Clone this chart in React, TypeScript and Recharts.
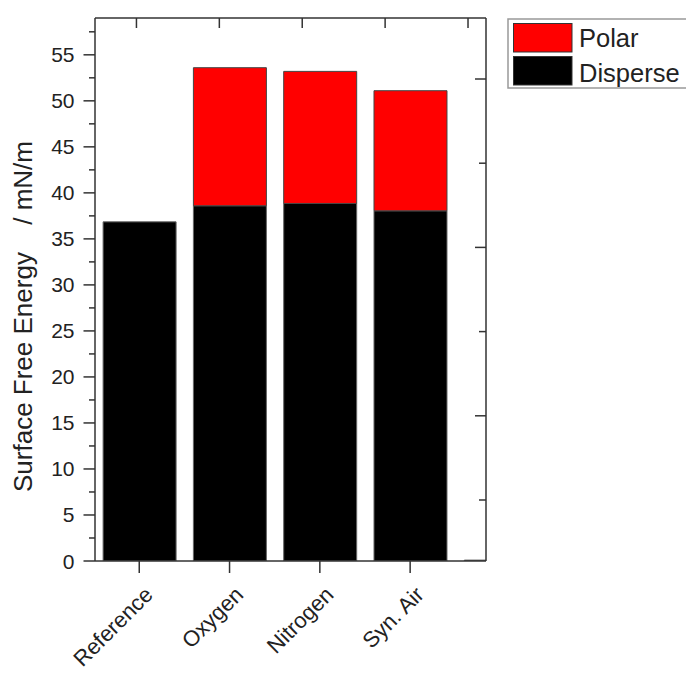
import React from 'react';
import { ComposedChart, Bar, Line, XAxis, YAxis } from 'recharts';

const categories = ['Reference', 'Oxygen', 'Nitrogen', 'Syn. Air', ''];
const disperseValues = [36.85, 38.6, 38.85, 38.05, 0.1];
const polarValues: (number | null)[] = [null, 15.0, 14.35, 13.05, null];
const yTicks = [0, 2.5, 5, 7.5, 10, 12.5, 15, 17.5, 20, 22.5, 25, 27.5, 30, 32.5, 35, 37.5, 40, 42.5, 45, 47.5, 50, 52.5, 55, 57.5];
const xTicks = [0, 1, 2, 3];
const topTicks = [0.5, 1.5, 2.5, 3.5, 4.5];
const rightTicks = [0.7245, 1.7245, 2.7245, 3.7245, 4.7245, 5.7245];
const legendItems = [
  { name: 'Polar', color: '#ff0000' },
  { name: 'Disperse', color: '#000000' },
];

const data = categories.map((c, i) => ({
  x: i,
  name: c,
  disperse: disperseValues[i],
  polar: polarValues[i],
}));

const FONT = '"Liberation Sans", Arial, sans-serif';
const AXIS = '#333333';

const LeftTick = (props: any) => {
  const { x, y, payload } = props;
  const v = payload.value as number;
  const major = Math.abs(v % 5) < 1e-6;
  return (
    <g>
      <line x1={x - (major ? 11.5 : 6)} y1={y} x2={x} y2={y} stroke={AXIS} strokeWidth={1.5} />
      {major && (
        <text x={x - 20.5} y={y} dy={7.5} textAnchor="end" fontSize={21} fontFamily={FONT} fill="#222">
          {v}
        </text>
      )}
    </g>
  );
};

const BottomTick = (props: any) => {
  const { x, y, payload } = props;
  const label = categories[payload.value as number];
  const ax = x + 15;
  const ay = y + 23;
  return (
    <text
      x={ax}
      y={ay}
      textAnchor="end"
      fontSize={22}
      fontFamily={FONT}
      fill="#222"
      transform={`rotate(-45 ${ax} ${ay})`}
    >
      {label}
    </text>
  );
};

const TopTick = (props: any) => {
  const { x, y } = props;
  return <line x1={x} y1={y} x2={x} y2={y + 10} stroke={AXIS} strokeWidth={1.5} />;
};

const RightTick = (props: any) => {
  const { x, y, index } = props;
  const major = index % 2 === 1;
  return <line x1={x - (major ? 11 : 7)} y1={y} x2={x} y2={y} stroke={AXIS} strokeWidth={1.5} />;
};

export default function App() {
  return (
    <div style={{ position: 'absolute', left: 0, top: 0, width: 686, height: 673, background: '#fff' }}>
      <ComposedChart
        width={686}
        height={673}
        data={data}
        margin={{ top: 0, right: 199, bottom: 0, left: 0 }}
      >
        <XAxis
          xAxisId="bottom"
          dataKey="x"
          type="number"
          domain={[-0.49, 3.84]}
          allowDataOverflow
          ticks={xTicks}
          interval={0}
          height={112}
          tickSize={12}
          tickMargin={0}
          tickLine={{ stroke: AXIS, strokeWidth: 1.5 }}
          axisLine={{ stroke: AXIS, strokeWidth: 1.5 }}
          tick={<BottomTick />}
        />
        <XAxis
          xAxisId="top"
          orientation="top"
          dataKey="x"
          type="number"
          domain={[0, 4.717]}
          allowDataOverflow
          ticks={topTicks}
          interval={0}
          height={18}
          tickSize={0}
          tickMargin={0}
          tickLine={false}
          axisLine={{ stroke: AXIS, strokeWidth: 1.5 }}
          tick={<TopTick />}
        />
        <YAxis
          yAxisId="left"
          type="number"
          domain={[0, 59]}
          allowDataOverflow
          ticks={yTicks}
          interval={0}
          width={95}
          tickSize={0}
          tickMargin={0}
          tickLine={false}
          axisLine={{ stroke: AXIS, strokeWidth: 1.5 }}
          tick={<LeftTick />}
        />
        <YAxis
          yAxisId="right"
          orientation="right"
          type="number"
          domain={[0, 6.449]}
          allowDataOverflow
          ticks={rightTicks}
          interval={0}
          width={1}
          tickSize={0}
          tickMargin={0}
          tickLine={false}
          axisLine={{ stroke: AXIS, strokeWidth: 1.5 }}
          tick={<RightTick />}
        />
        <Bar
          xAxisId="bottom"
          yAxisId="left"
          dataKey="disperse"
          stackId="a"
          barSize={73}
          fill="#000000"
          stroke="#666666"
          strokeWidth={1}
          isAnimationActive={false}
        />
        <Bar
          xAxisId="bottom"
          yAxisId="left"
          dataKey="polar"
          stackId="a"
          barSize={73}
          fill="#ff0000"
          stroke="#444444"
          strokeWidth={1}
          isAnimationActive={false}
        />
        <Line
          xAxisId="top"
          yAxisId="right"
          dataKey="x"
          stroke="none"
          dot={false}
          activeDot={false}
          legendType="none"
          isAnimationActive={false}
        />
      </ComposedChart>
      <svg
        width={686}
        height={673}
        style={{ position: 'absolute', left: 0, top: 0, pointerEvents: 'none' }}
      >
        <text
          x={32}
          y={492}
          textAnchor="start"
          fontSize={26}
          fontFamily={FONT}
          fill="#222"
          transform="rotate(-90 32 492)"
        >
          Surface Free Energy
        </text>
        <text
          x={32}
          y={141}
          textAnchor="end"
          fontSize={26}
          fontFamily={FONT}
          fill="#222"
          transform="rotate(-90 32 141)"
        >
          / mN/m
        </text>
        <rect x={508} y={19} width={190} height={69} fill="#fff" stroke="#999" strokeWidth={1.5} />
        {legendItems.map((it, i) => (
          <g key={it.name}>
            <rect x={513.5} y={23.5 + i * 33} width={58.5} height={28.5} fill={it.color} stroke="#333" strokeWidth={1} />
            <text x={579} y={47 + i * 35} fontSize={25.5} fontFamily={FONT} fill="#222">
              {it.name}
            </text>
          </g>
        ))}
      </svg>
    </div>
  );
}
